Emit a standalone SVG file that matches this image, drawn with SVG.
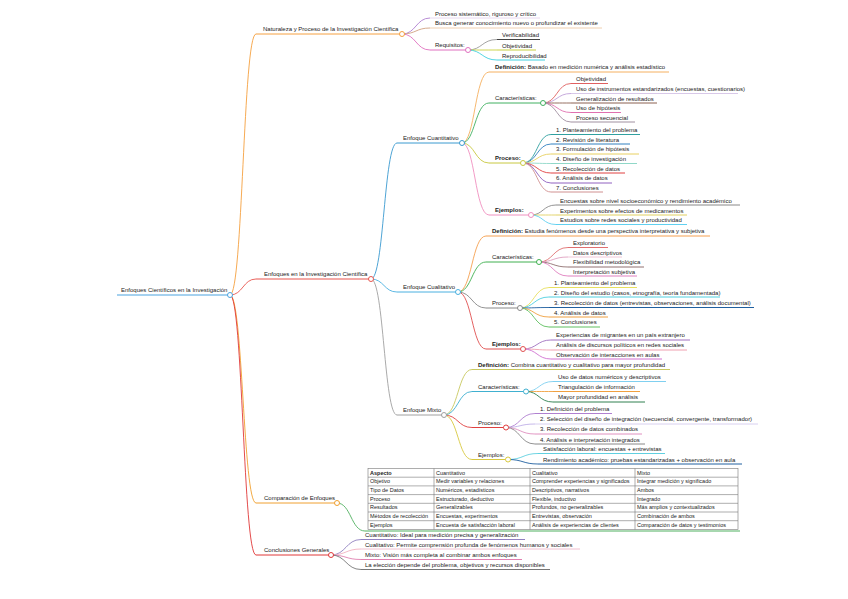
<svg xmlns="http://www.w3.org/2000/svg" width="848" height="599" viewBox="0 0 848 599">
<style>
.t{font-family:"Liberation Sans",Arial,sans-serif;font-size:6px;fill:#222}
.b{font-weight:bold}
.tb{font-family:"Liberation Sans",Arial,sans-serif;font-size:5.5px;fill:#222}
.c{fill:none;stroke-width:0.9}
.u{stroke-width:1;fill:none}
.d{fill:#fff;stroke-width:1}
.g{stroke:#777;stroke-width:0.6;fill:none}
</style>
<rect width="848" height="599" fill="#fff"/>
<g id="connectors">
<path class="c" stroke="#f5a040" d="M230,295 C243,295 243,34 256,34"/>
<path class="c" stroke="#e8554e" d="M230,295 C243,295 243,279 256,279"/>
<path class="c" stroke="#f0a030" d="M230,295 C243,295 243,503 256,503"/>
<path class="c" stroke="#e03838" d="M230,295 C243,295 243,555 256,555"/>
<path class="c" stroke="#b080d0" d="M402,34 C416,34 416,18 430,18"/>
<path class="c" stroke="#d0a080" d="M402,34 C416,34 416,28 430,28"/>
<path class="c" stroke="#e070c0" d="M402,34 C416,34 416,50 430,50"/>
<path class="c" stroke="#999" d="M468,50 C482,50 482,39.5 497,39.5"/>
<path class="c" stroke="#c8d040" d="M468,50 C482,50 482,50 497,50"/>
<path class="c" stroke="#40d0e0" d="M468,50 C482,50 482,60 497,60"/>
<path class="c" stroke="#3a9ad0" d="M371,279 C384,279 384,143 397,143"/>
<path class="c" stroke="#4ab0e0" d="M371,279 C384,279 384,292 397,292"/>
<path class="c" stroke="#a0a0a0" d="M371,279 C384,279 384,415 397,415"/>
<path class="c" stroke="#f5b060" d="M462,143 C475,143 475,72 489,72"/>
<path class="c" stroke="#40b060" d="M462,143 C475,143 475,103 489,103"/>
<path class="c" stroke="#c8c840" d="M462,143 C475,143 475,163 489,163"/>
<path class="c" stroke="#f090c0" d="M462,143 C475,143 475,215 489,215"/>
<path class="c" stroke="#e06060" d="M543,103 C557,103 557,83.5 571,83.5"/>
<path class="c" stroke="#c0a0d8" d="M543,103 C557,103 557,93.5 571,93.5"/>
<path class="c" stroke="#8a6050" d="M543,103 C557,103 557,103 571,103"/>
<path class="c" stroke="#e070b0" d="M543,103 C557,103 557,112.5 571,112.5"/>
<path class="c" stroke="#a090a0" d="M543,103 C557,103 557,122 571,122"/>
<path class="c" stroke="#30a0a0" d="M523,163 C537,163 537,134.5 551,134.5"/>
<path class="c" stroke="#3080c0" d="M523,163 C537,163 537,144 551,144"/>
<path class="c" stroke="#e8d060" d="M523,163 C537,163 537,154 551,154"/>
<path class="c" stroke="#90d8c8" d="M523,163 C537,163 537,163.5 551,163.5"/>
<path class="c" stroke="#e04040" d="M523,163 C537,163 537,173 551,173"/>
<path class="c" stroke="#9060c0" d="M523,163 C537,163 537,183 551,183"/>
<path class="c" stroke="#d09090" d="M523,163 C537,163 537,192 551,192"/>
<path class="c" stroke="#888" d="M531,215 C543,215 543,205 556,205"/>
<path class="c" stroke="#e0d060" d="M531,215 C543,215 543,215 556,215"/>
<path class="c" stroke="#60d0f0" d="M531,215 C543,215 543,224.5 556,224.5"/>
<path class="c" stroke="#f5a050" d="M458,292 C472,292 472,236 486,236"/>
<path class="c" stroke="#40b050" d="M458,292 C472,292 472,262 486,262"/>
<path class="c" stroke="#888" d="M458,292 C472,292 472,308 486,308"/>
<path class="c" stroke="#e05050" d="M458,292 C472,292 472,349 486,349"/>
<path class="c" stroke="#e07070" d="M539,262 C553,262 553,247.5 568,247.5"/>
<path class="c" stroke="#e0a0c0" d="M539,262 C553,262 553,257 568,257"/>
<path class="c" stroke="#907070" d="M539,262 C553,262 553,267 568,267"/>
<path class="c" stroke="#e080c0" d="M539,262 C553,262 553,276 568,276"/>
<path class="c" stroke="#e8e060" d="M520,308 C534,308 534,287.5 549,287.5"/>
<path class="c" stroke="#50d0e0" d="M520,308 C534,308 534,297 549,297"/>
<path class="c" stroke="#1f5f9f" d="M520,308 C534,308 534,307.5 549,307.5"/>
<path class="c" stroke="#f0a040" d="M520,308 C534,308 534,317 549,317"/>
<path class="c" stroke="#60c060" d="M520,308 C534,308 534,327 549,327"/>
<path class="c" stroke="#a070c0" d="M523,349 C537,349 537,340 551,340"/>
<path class="c" stroke="#f0a0b0" d="M523,349 C537,349 537,350 551,350"/>
<path class="c" stroke="#d070d0" d="M523,349 C537,349 537,359 551,359"/>
<path class="c" stroke="#c8c860" d="M444,415 C458,415 458,369.5 472,369.5"/>
<path class="c" stroke="#40b0d0" d="M444,415 C458,415 458,391.5 472,391.5"/>
<path class="c" stroke="#e04040" d="M444,415 C458,415 458,427.5 472,427.5"/>
<path class="c" stroke="#d8c840" d="M444,415 C458,415 458,459.5 472,459.5"/>
<path class="c" stroke="#80d0f0" d="M526,391.5 C539,391.5 539,381.5 553,381.5"/>
<path class="c" stroke="#f0a040" d="M526,391.5 C539,391.5 539,391.5 553,391.5"/>
<path class="c" stroke="#308050" d="M526,391.5 C539,391.5 539,402 553,402"/>
<path class="c" stroke="#b080d0" d="M506,427.5 C520,427.5 520,413.5 535,413.5"/>
<path class="c" stroke="#c0b0e8" d="M506,427.5 C520,427.5 520,424 535,424"/>
<path class="c" stroke="#e090c0" d="M506,427.5 C520,427.5 520,434 535,434"/>
<path class="c" stroke="#888" d="M506,427.5 C520,427.5 520,444 535,444"/>
<path class="c" stroke="#60d0e0" d="M508,459.5 C523,459.5 523,453.5 538,453.5"/>
<path class="c" stroke="#2060a0" d="M508,459.5 C523,459.5 523,464 538,464"/>
<path class="c" stroke="#50b060" d="M337,503 C351,503 351,531 365,531"/>
<path class="c" stroke="#9080c0" d="M331,555 C346,555 346,539.5 361,539.5"/>
<path class="c" stroke="#f0b0c0" d="M331,555 C346,555 346,549 361,549"/>
<path class="c" stroke="#e080b0" d="M331,555 C346,555 346,559.5 361,559.5"/>
<path class="c" stroke="#777" d="M331,555 C346,555 346,569.5 361,569.5"/>
</g>

<g id="root">
<line class="u" stroke="#4aa3df" x1="117" y1="295" x2="230" y2="295"/>
<text class="t" x="121" y="292">Enfoques Científicos en la Investigación</text>
<circle class="d" stroke="#4aa3df" cx="230" cy="295" r="2.5"/>
</g>

<g id="naturaleza">
<line class="u" stroke="#f5a040" x1="256" y1="34" x2="402" y2="34"/>
<text class="t" x="263" y="31">Naturaleza y Proceso de la Investigación Científica</text>
<circle class="d" stroke="#f5a040" cx="402" cy="34" r="2.5"/>
</g>
<g id="nat-proceso">
<line class="u" stroke="#e8d8f0" x1="430" y1="18" x2="540" y2="18"/>
<text class="t" x="435" y="16">Proceso sistemático, riguroso y crítico</text>
</g>
<g id="nat-busca">
<line class="u" stroke="#f0d0b0" x1="430" y1="28" x2="602" y2="28"/>
<text class="t" x="435" y="25">Busca generar conocimiento nuevo o profundizar el existente</text>
</g>
<g id="nat-requisitos">
<line class="u" stroke="#e070c0" x1="430" y1="50" x2="468" y2="50"/>
<text class="t" x="435" y="47">Requisitos:</text>
<circle class="d" stroke="#e070c0" cx="468" cy="50" r="2.5"/>
</g>
<g id="req-verif">
<line class="u" stroke="#444" stroke-width="1.3" x1="497" y1="39.5" x2="540" y2="39.5"/>
<text class="t" x="502" y="37">Verificabilidad</text>
</g>
<g id="req-obj">
<line class="u" stroke="#c8d040" x1="497" y1="50" x2="536" y2="50"/>
<text class="t" x="502" y="48">Objetividad</text>
</g>
<g id="req-repro">
<line class="u" stroke="#40d0e0" x1="497" y1="60" x2="545" y2="60"/>
<text class="t" x="502" y="57.5">Reproducibilidad</text>
</g>

<g id="enfoques">
<line class="u" stroke="#e8554e" x1="256" y1="279" x2="371" y2="279"/>
<text class="t" x="264" y="276">Enfoques en la Investigación Científica</text>
<circle class="d" stroke="#e8554e" cx="371" cy="279" r="2.5"/>
</g>

<g id="cuantitativo">
<line class="u" stroke="#3a9ad0" x1="397" y1="143" x2="462" y2="143"/>
<text class="t" x="403" y="140">Enfoque Cuantitativo</text>
<circle class="d" stroke="#3a9ad0" cx="462" cy="143" r="2.5"/>
</g>
<g id="cuan-def">
<line class="u" stroke="#f5b060" x1="489" y1="72" x2="669" y2="72"/>
<text class="t" x="495" y="69"><tspan class="b">Definición:</tspan> Basado en medición numérica y análisis estadístico</text>
</g>
<g id="cuan-car">
<line class="u" stroke="#40b060" x1="489" y1="103" x2="543" y2="103"/>
<text class="t" x="495" y="100">Características:</text>
<circle class="d" stroke="#40b060" cx="543" cy="103" r="2.5"/>
</g>
<g id="cuan-car-1">
<line class="u" stroke="#e06060" x1="571" y1="83.5" x2="608" y2="83.5"/>
<text class="t" x="576" y="81">Objetividad</text>
</g>
<g id="cuan-car-2">
<line class="u" stroke="#d8c8e8" x1="571" y1="93.5" x2="738" y2="93.5"/>
<text class="t" x="576" y="91">Uso de instrumentos estandarizados (encuestas, cuestionarios)</text>
</g>
<g id="cuan-car-3">
<line class="u" stroke="#8a6050" stroke-width="1.3" x1="571" y1="103" x2="657" y2="103"/>
<text class="t" x="576" y="100.5">Generalización de resultados</text>
</g>
<g id="cuan-car-4">
<line class="u" stroke="#e070b0" x1="571" y1="112.5" x2="621" y2="112.5"/>
<text class="t" x="576" y="110">Uso de hipótesis</text>
</g>
<g id="cuan-car-5">
<line class="u" stroke="#a090a0" x1="571" y1="122" x2="635" y2="122"/>
<text class="t" x="576" y="119.5">Proceso secuencial</text>
</g>
<g id="cuan-proc">
<line class="u" stroke="#c8c840" x1="489" y1="163" x2="523" y2="163"/>
<text class="t b" x="495" y="160">Proceso:</text>
<circle class="d" stroke="#c8c840" cx="523" cy="163" r="2.5"/>
</g>
<g id="cuan-proc-1">
<line class="u" stroke="#30a0a0" x1="551" y1="134.5" x2="640" y2="134.5"/>
<text class="t" x="556" y="132">1. Planteamiento del problema</text>
</g>
<g id="cuan-proc-2">
<line class="u" stroke="#3080c0" x1="551" y1="144" x2="630" y2="144"/>
<text class="t" x="556" y="141.5">2. Revisión de literatura</text>
</g>
<g id="cuan-proc-3">
<line class="u" stroke="#e8d060" x1="551" y1="154" x2="639" y2="154"/>
<text class="t" x="556" y="151">3. Formulación de hipótesis</text>
</g>
<g id="cuan-proc-4">
<line class="u" stroke="#90d8c8" x1="551" y1="163.5" x2="637" y2="163.5"/>
<text class="t" x="556" y="161">4. Diseño de investigación</text>
</g>
<g id="cuan-proc-5">
<line class="u" stroke="#e04040" x1="551" y1="173" x2="625" y2="173"/>
<text class="t" x="556" y="170.5">5. Recolección de datos</text>
</g>
<g id="cuan-proc-6">
<line class="u" stroke="#9060c0" x1="551" y1="183" x2="612" y2="183"/>
<text class="t" x="556" y="180">6. Análisis de datos</text>
</g>
<g id="cuan-proc-7">
<line class="u" stroke="#d09090" x1="551" y1="192" x2="603" y2="192"/>
<text class="t" x="556" y="189.5">7. Conclusiones</text>
</g>
<g id="cuan-ej">
<line class="u" stroke="#f090c0" x1="489" y1="215" x2="531" y2="215"/>
<text class="t b" x="495" y="212">Ejemplos:</text>
<circle class="d" stroke="#f090c0" cx="531" cy="215" r="2.5"/>
</g>
<g id="cuan-ej-1">
<line class="u" stroke="#888" x1="556" y1="205" x2="740" y2="205"/>
<text class="t" x="560" y="202.5">Encuestas sobre nivel socioeconómico y rendimiento académico</text>
</g>
<g id="cuan-ej-2">
<line class="u" stroke="#e0d060" x1="556" y1="215" x2="687" y2="215"/>
<text class="t" x="560" y="212.5">Experimentos sobre efectos de medicamentos</text>
</g>
<g id="cuan-ej-3">
<line class="u" stroke="#60d0f0" x1="556" y1="224.5" x2="687" y2="224.5"/>
<text class="t" x="560" y="222">Estudios sobre redes sociales y productividad</text>
</g>

<g id="cualitativo">
<line class="u" stroke="#4ab0e0" x1="397" y1="292" x2="458" y2="292"/>
<text class="t" x="403" y="289">Enfoque Cualitativo</text>
<circle class="d" stroke="#4ab0e0" cx="458" cy="292" r="2.5"/>
</g>
<g id="cual-def">
<line class="u" stroke="#f5a050" x1="486" y1="236" x2="710" y2="236"/>
<text class="t" x="492" y="233"><tspan class="b">Definición:</tspan> Estudia fenómenos desde una perspectiva interpretativa y subjetiva</text>
</g>
<g id="cual-car">
<line class="u" stroke="#40b050" x1="486" y1="262" x2="539" y2="262"/>
<text class="t" x="492" y="259">Características:</text>
<circle class="d" stroke="#40b050" cx="539" cy="262" r="2.5"/>
</g>
<g id="cual-car-1">
<line class="u" stroke="#e07070" x1="568" y1="247.5" x2="608" y2="247.5"/>
<text class="t" x="573" y="245">Exploratorio</text>
</g>
<g id="cual-car-2">
<line class="u" stroke="#f0c8d8" x1="568" y1="257" x2="622" y2="257"/>
<text class="t" x="573" y="254.5">Datos descriptivos</text>
</g>
<g id="cual-car-3">
<line class="u" stroke="#907070" x1="568" y1="267" x2="644" y2="267"/>
<text class="t" x="573" y="264">Flexibilidad metodológica</text>
</g>
<g id="cual-car-4">
<line class="u" stroke="#e080c0" x1="568" y1="276" x2="637" y2="276"/>
<text class="t" x="573" y="273.5">Interpretación subjetiva</text>
</g>
<g id="cual-proc">
<line class="u" stroke="#888" x1="486" y1="308" x2="520" y2="308"/>
<text class="t" x="492" y="305">Proceso:</text>
<circle class="d" stroke="#888" cx="520" cy="308" r="2.5"/>
</g>
<g id="cual-proc-1">
<line class="u" stroke="#e8e060" x1="549" y1="287.5" x2="637" y2="287.5"/>
<text class="t" x="554" y="285">1. Planteamiento del problema</text>
</g>
<g id="cual-proc-2">
<line class="u" stroke="#50d0e0" x1="549" y1="297" x2="720" y2="297"/>
<text class="t" x="554" y="294.5">2. Diseño del estudio (casos, etnografía, teoría fundamentada)</text>
</g>
<g id="cual-proc-3">
<line class="u" stroke="#1f5f9f" stroke-width="1.3" x1="549" y1="307.5" x2="754" y2="307.5"/>
<text class="t" x="554" y="304.5">3. Recolección de datos (entrevistas, observaciones, análisis documental)</text>
</g>
<g id="cual-proc-4">
<line class="u" stroke="#f0a040" x1="549" y1="317" x2="608" y2="317"/>
<text class="t" x="554" y="314.5">4. Análisis de datos</text>
</g>
<g id="cual-proc-5">
<line class="u" stroke="#60c060" x1="549" y1="327" x2="600" y2="327"/>
<text class="t" x="554" y="324">5. Conclusiones</text>
</g>
<g id="cual-ej">
<line class="u" stroke="#e05050" x1="486" y1="349" x2="523" y2="349"/>
<text class="t b" x="492" y="346">Ejemplos:</text>
<circle class="d" stroke="#e05050" cx="523" cy="349" r="2.5"/>
</g>
<g id="cual-ej-1">
<line class="u" stroke="#a070c0" x1="551" y1="340" x2="690" y2="340"/>
<text class="t" x="556" y="337">Experiencias de migrantes en un país extranjero</text>
</g>
<g id="cual-ej-2">
<line class="u" stroke="#f0a0b0" x1="551" y1="350" x2="687" y2="350"/>
<text class="t" x="556" y="347">Análisis de discursos políticos en redes sociales</text>
</g>
<g id="cual-ej-3">
<line class="u" stroke="#d070d0" x1="551" y1="359" x2="662" y2="359"/>
<text class="t" x="556" y="356.5">Observación de interacciones en aulas</text>
</g>

<g id="mixto">
<line class="u" stroke="#a0a0a0" x1="397" y1="415" x2="444" y2="415"/>
<text class="t" x="403" y="412">Enfoque Mixto</text>
<circle class="d" stroke="#a0a0a0" cx="444" cy="415" r="2.5"/>
</g>
<g id="mix-def">
<line class="u" stroke="#c8c860" x1="472" y1="369.5" x2="670" y2="369.5"/>
<text class="t" x="478" y="367"><tspan class="b">Definición:</tspan> Combina cuantitativo y cualitativo para mayor profundidad</text>
</g>
<g id="mix-car">
<line class="u" stroke="#40b0d0" x1="472" y1="391.5" x2="526" y2="391.5"/>
<text class="t" x="478" y="388.5">Características:</text>
<circle class="d" stroke="#40b0d0" cx="526" cy="391.5" r="2.5"/>
</g>
<g id="mix-car-1">
<line class="u" stroke="#80d0f0" x1="553" y1="381.5" x2="666" y2="381.5"/>
<text class="t" x="558" y="379">Uso de datos numéricos y descriptivos</text>
</g>
<g id="mix-car-2">
<line class="u" stroke="#f0a040" x1="553" y1="391.5" x2="640" y2="391.5"/>
<text class="t" x="558" y="389">Triangulación de información</text>
</g>
<g id="mix-car-3">
<line class="u" stroke="#308050" stroke-width="1.3" x1="553" y1="402" x2="645" y2="402"/>
<text class="t" x="558" y="399">Mayor profundidad en análisis</text>
</g>
<g id="mix-proc">
<line class="u" stroke="#e04040" x1="472" y1="427.5" x2="506" y2="427.5"/>
<text class="t" x="478" y="424.5">Proceso:</text>
<circle class="d" stroke="#e04040" cx="506" cy="427.5" r="2.5"/>
</g>
<g id="mix-proc-1">
<line class="u" stroke="#b080d0" x1="535" y1="413.5" x2="612" y2="413.5"/>
<text class="t" x="540" y="411">1. Definición del problema</text>
</g>
<g id="mix-proc-2">
<line class="u" stroke="#d8d0f0" x1="535" y1="424" x2="758" y2="424"/>
<text class="t" x="540" y="421">2. Selección del diseño de integración (secuencial, convergente, transformador)</text>
</g>
<g id="mix-proc-3">
<line class="u" stroke="#e090c0" x1="535" y1="434" x2="642" y2="434"/>
<text class="t" x="540" y="431">3. Recolección de datos combinados</text>
</g>
<g id="mix-proc-4">
<line class="u" stroke="#888" x1="535" y1="444" x2="645" y2="444"/>
<text class="t" x="540" y="441.5">4. Análisis e interpretación integrados</text>
</g>
<g id="mix-ej">
<line class="u" stroke="#d8c840" x1="472" y1="459.5" x2="508" y2="459.5"/>
<text class="t" x="478" y="456.5">Ejemplos:</text>
<circle class="d" stroke="#d8c840" cx="508" cy="459.5" r="2.5"/>
</g>
<g id="mix-ej-1">
<line class="u" stroke="#60d0e0" x1="538" y1="453.5" x2="665" y2="453.5"/>
<text class="t" x="543" y="451">Satisfacción laboral: encuestas + entrevistas</text>
</g>
<g id="mix-ej-2">
<line class="u" stroke="#2060a0" x1="538" y1="464" x2="742" y2="464"/>
<text class="t" x="543" y="461.5">Rendimiento académico: pruebas estandarizadas + observación en aula</text>
</g>

<g id="comparacion">
<line class="u" stroke="#f0a030" x1="256" y1="503" x2="337" y2="503"/>
<text class="t" x="264" y="500">Comparación de Enfoques</text>
<circle class="d" stroke="#f0a030" cx="337" cy="503" r="2.5"/>
</g>
<g id="tabla">
<rect class="g" x="368" y="468.5" width="370" height="61"/>
<line class="g" x1="368" y1="477.2" x2="738" y2="477.2"/>
<line class="g" x1="368" y1="485.9" x2="738" y2="485.9"/>
<line class="g" x1="368" y1="494.6" x2="738" y2="494.6"/>
<line class="g" x1="368" y1="503.3" x2="738" y2="503.3"/>
<line class="g" x1="368" y1="512" x2="738" y2="512"/>
<line class="g" x1="368" y1="520.7" x2="738" y2="520.7"/>
<line class="g" x1="434" y1="468.5" x2="434" y2="529.5"/>
<line class="g" x1="530" y1="468.5" x2="530" y2="529.5"/>
<line class="g" x1="635" y1="468.5" x2="635" y2="529.5"/>
<line class="u" stroke="#50b060" x1="365" y1="531" x2="740" y2="531"/>
<text class="tb b" x="370" y="474.5">Aspecto</text>
<text class="tb" x="436" y="474.5">Cuantitativo</text>
<text class="tb" x="532" y="474.5">Cualitativo</text>
<text class="tb" x="637" y="474.5">Mixto</text>
<text class="tb" x="370" y="483.2">Objetivo</text>
<text class="tb" x="436" y="483.2">Medir variables y relaciones</text>
<text class="tb" x="532" y="483.2">Comprender experiencias y significados</text>
<text class="tb" x="637" y="483.2">Integrar medición y significado</text>
<text class="tb" x="370" y="491.9">Tipo de Datos</text>
<text class="tb" x="436" y="491.9">Numéricos, estadísticos</text>
<text class="tb" x="532" y="491.9">Descriptivos, narrativos</text>
<text class="tb" x="637" y="491.9">Ambos</text>
<text class="tb" x="370" y="500.6">Proceso</text>
<text class="tb" x="436" y="500.6">Estructurado, deductivo</text>
<text class="tb" x="532" y="500.6">Flexible, inductivo</text>
<text class="tb" x="637" y="500.6">Integrado</text>
<text class="tb" x="370" y="509.3">Resultados</text>
<text class="tb" x="436" y="509.3">Generalizables</text>
<text class="tb" x="532" y="509.3">Profundos, no generalizables</text>
<text class="tb" x="637" y="509.3">Más amplios y contextualizados</text>
<text class="tb" x="370" y="518">Métodos de recolección</text>
<text class="tb" x="436" y="518">Encuestas, experimentos</text>
<text class="tb" x="532" y="518">Entrevistas, observación</text>
<text class="tb" x="637" y="518">Combinación de ambos</text>
<text class="tb" x="370" y="526.7">Ejemplos</text>
<text class="tb" x="436" y="526.7">Encuesta de satisfacción laboral</text>
<text class="tb" x="532" y="526.7">Análisis de experiencias de clientes</text>
<text class="tb" x="637" y="526.7">Comparación de datos y testimonios</text>
</g>

<g id="conclusiones">
<line class="u" stroke="#e03838" x1="256" y1="555" x2="331" y2="555"/>
<text class="t" x="264" y="552">Conclusiones Generales</text>
<circle class="d" stroke="#e03838" cx="331" cy="555" r="2.5"/>
</g>
<g id="conc-1">
<line class="u" stroke="#9080c0" x1="361" y1="539.5" x2="525" y2="539.5"/>
<text class="t" x="365" y="537">Cuantitativo: Ideal para medición precisa y generalización</text>
</g>
<g id="conc-2">
<line class="u" stroke="#f0c0d0" x1="361" y1="549" x2="580" y2="549"/>
<text class="t" x="365" y="546.5">Cualitativo: Permite comprensión profunda de fenómenos humanos y sociales</text>
</g>
<g id="conc-3">
<line class="u" stroke="#e080b0" x1="361" y1="559.5" x2="522" y2="559.5"/>
<text class="t" x="365" y="557">Mixto: Visión más completa al combinar ambos enfoques</text>
</g>
<g id="conc-4">
<line class="u" stroke="#777" x1="361" y1="569.5" x2="550" y2="569.5"/>
<text class="t" x="365" y="567">La elección depende del problema, objetivos y recursos disponibles</text>
</g>
</svg>
